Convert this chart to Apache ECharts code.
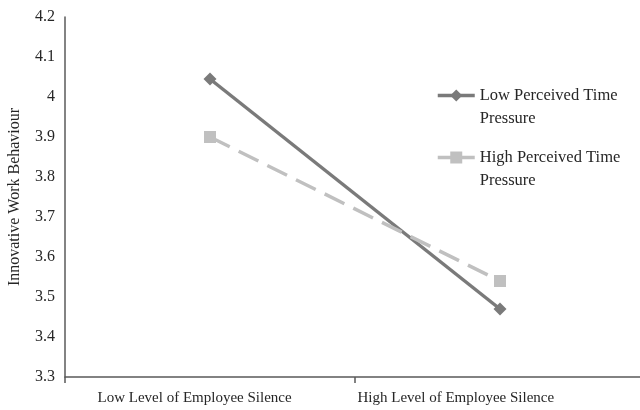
<!DOCTYPE html>
<html><head><meta charset="utf-8">
<script src="https://cdn.jsdelivr.net/npm/echarts@6/dist/echarts.min.js"></script>
<style>html,body{margin:0;padding:0;background:#fff}#c{width:640px;height:410px}</style>
</head><body><div id="c"></div>
<script>
var categories = ['Low Level of Employee Silence', 'High Level of Employee Silence'];
var lowPressure = [4.045, 3.47];
var highPressure = [3.9, 3.54];
var seriesNames = ['Low Perceived Time\nPressure', 'High Perceived Time\nPressure'];
var yTitle = 'Innovative Work Behaviour';

var font = 'Liberation Serif';
var txt = '#262626';
var chart = echarts.init(document.getElementById('c'));
chart.setOption({
  animation: false,
  backgroundColor: '#fff',
  grid: {left: 65, right: -5, top: 17, bottom: 33, containLabel: false, outerBoundsMode: 'none'},
  legend: {
    orient: 'vertical', left: 436, top: 61, itemGap: -7, padding: 0,
    itemWidth: 37, itemHeight: 15,
    lineStyle: {width: 3.5, type: 'solid'},
    textStyle: {fontFamily: font, fontSize: 16.5, color: txt, lineHeight: 23},
    formatter: function (n) { return '\n' + n; },
    data: seriesNames
  },
  xAxis: {
    type: 'category', data: categories, boundaryGap: true,
    axisLine: {lineStyle: {color: '#5a5a5a', width: 1.5}},
    axisTick: {show: true, length: 6, lineStyle: {color: '#5a5a5a', width: 1.5}},
    axisLabel: {
      margin: 14,
      formatter: function (v, i) { return (i === 0 ? '{a|' : '{b|') + v + '}'; },
      rich: {
        a: {fontFamily: font, fontSize: 15, color: txt, width: 225, align: 'left'},
        b: {fontFamily: font, fontSize: 15, color: txt, width: 285, align: 'left'}
      }
    }
  },
  yAxis: {
    type: 'value', min: 3.3, max: 4.2, interval: 0.1,
    name: yTitle, nameLocation: 'middle', nameGap: 42, nameRotate: 90,
    nameTextStyle: {fontFamily: font, fontSize: 16, color: txt},
    axisLine: {show: true, lineStyle: {color: '#5a5a5a', width: 1.5}},
    axisTick: {show: false},
    splitLine: {show: false},
    axisLabel: {fontFamily: font, fontSize: 16, color: txt, margin: 10,
      formatter: function (v) { return String(Math.round(v * 10) / 10); }}
  },
  series: [
    {name: seriesNames[0], type: 'line', data: lowPressure, symbol: 'diamond', symbolSize: 13,
     lineStyle: {color: '#7a7a7a', width: 3.5}, itemStyle: {color: '#7a7a7a'}},
    {name: seriesNames[1], type: 'line', data: highPressure, symbol: 'rect', symbolSize: 12,
     lineStyle: {color: '#c0c0c0', width: 3.5, type: [22, 10]}, itemStyle: {color: '#c0c0c0'}}
  ]
});
</script></body></html>
